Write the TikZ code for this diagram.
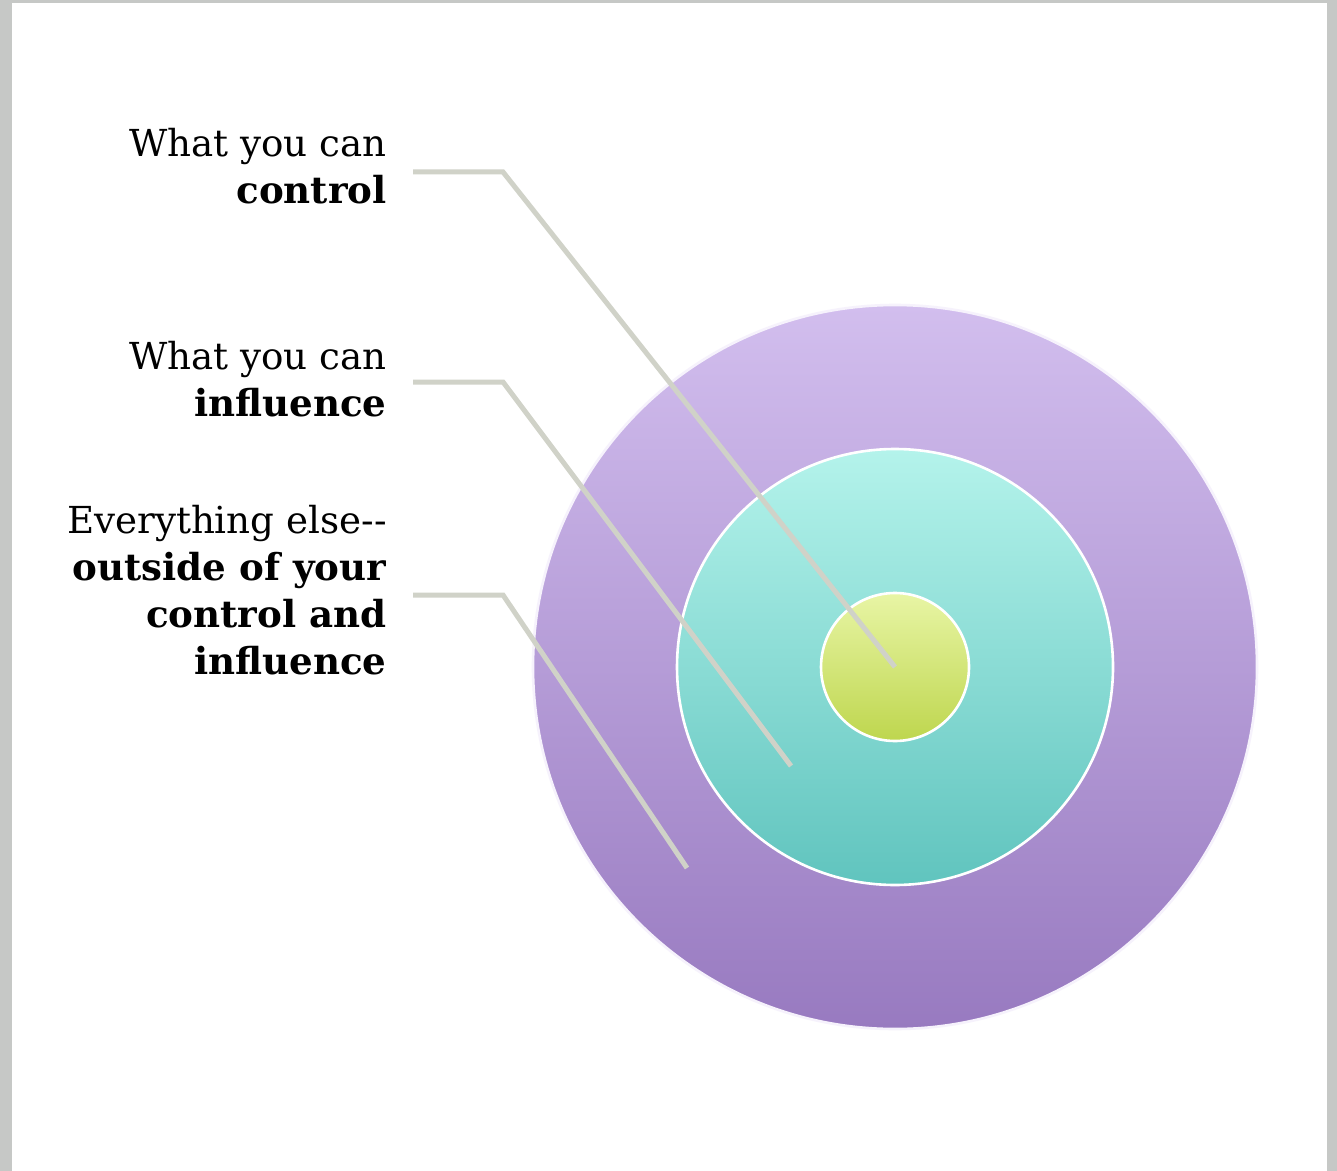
\documentclass[tikz,border=0pt]{standalone}
\usepackage{fontspec}
\setmainfont{DejaVu Serif}
\definecolor{pageframe}{RGB}{198,200,198}
\definecolor{leadgray}{RGB}{208,210,200}
\definecolor{outtop}{RGB}{210,190,238}
\definecolor{outbot}{RGB}{152,122,192}
\definecolor{midtop}{RGB}{180,243,235}
\definecolor{midbot}{RGB}{96,196,190}
\definecolor{intop}{RGB}{232,245,165}
\definecolor{inbot}{RGB}{190,214,78}
\tikzset{
  ring/.style={circle, inner sep=0pt, draw=white, line width=1.3pt},
  lbl/.style={align=right, inner sep=0pt, anchor=north east,
    font=\fontsize{18.6}{23.5}\selectfont},
  leader/.style={leadgray, line width=2.5pt, line join=miter}
}
\begin{document}
\begin{tikzpicture}[x=0.5pt,y=-0.5pt]
\useasboundingbox (0,0) rectangle (1337,1171);
\fill[pageframe] (0,0) rectangle (1337,1171);
\fill[white] (12,3) rectangle (1327,1171);

\node[ring, minimum size=362pt, top color=outtop, bottom color=outbot, draw=white!80!outtop] (outer) at (895,667){};
\node[ring, minimum size=218pt, top color=midtop, bottom color=midbot] (middle) at (895,667){};
\node[ring, minimum size=74pt, top color=intop, bottom color=inbot] (inner) at (895,667){};

\node[lbl] (ctrl) at (387,128){What you can\\\textbf{control}};
\node[lbl] (infl) at (387,341){What you can\\\textbf{influence}};
\node[lbl] (rest) at (387,505){Everything else-{}-\\\textbf{outside of your}\\\textbf{control and}\\\textbf{influence}};

\coordinate (ctrlA) at (413,172);
\coordinate (ctrlB) at (503,172);
\coordinate (inflA) at (413,382);
\coordinate (inflB) at (503,382);
\coordinate (inflC) at (791,766);
\coordinate (restA) at (413,595);
\coordinate (restB) at (503,595);
\coordinate (restC) at (687,868);
\draw[leader](ctrlA) -- (ctrlB) -- (inner.center);
\draw[leader](inflA) -- (inflB) -- (inflC);
\draw[leader](restA) -- (restB) -- (restC);

\end{tikzpicture}
\end{document}
